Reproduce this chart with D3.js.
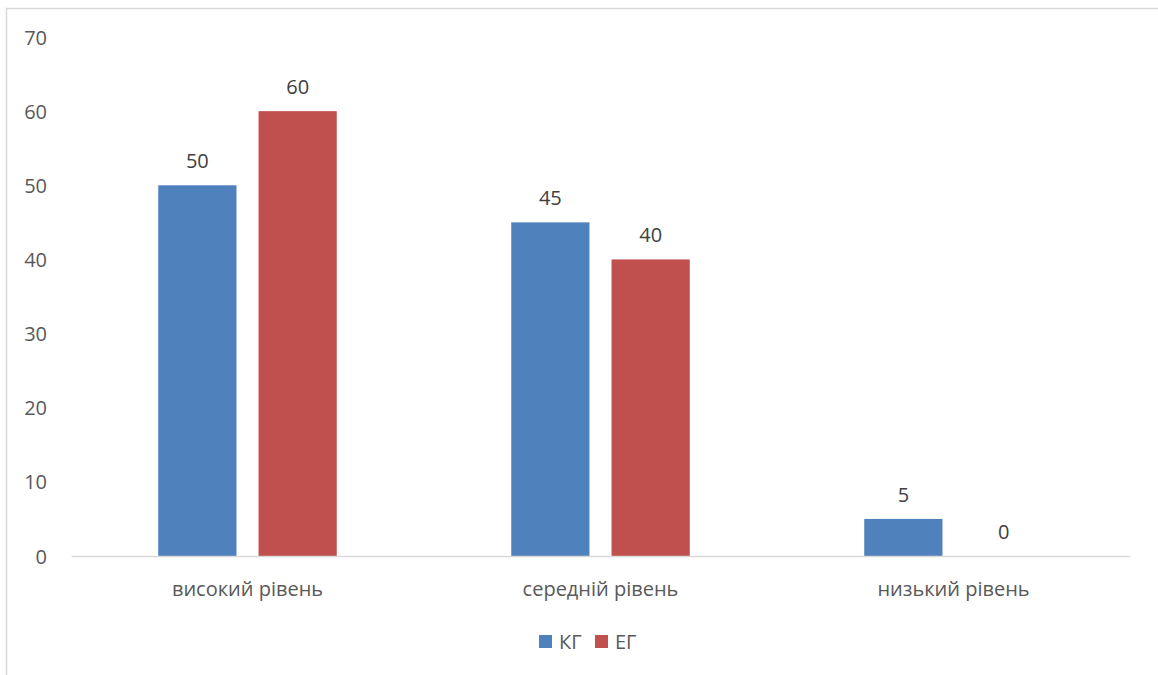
<!DOCTYPE html>
<html>
<head>
<meta charset="utf-8">
<script src="https://cdn.jsdelivr.net/npm/d3@7"></script>
<style>
  html, body { margin: 0; padding: 0; background: #fff; }
  svg { display: block; font-family: "Open Sans", "Noto Sans", sans-serif; }
</style>
</head>
<body>
<svg id="chart" width="1158" height="675"></svg>
<script>
const categories = ["високий рівень", "середній рівень", "низький рівень"];
const seriesNames = ["КГ", "ЕГ"];
const kgValues = [50, 45, 5];
const egValues = [60, 40, 0];
const yTicks = [0, 10, 20, 30, 40, 50, 60, 70];
const colors = ["#4f81bd", "#c0504d"];

const svg = d3.select("#chart");
const W = 1158, H = 675;
const FONT = 20;

// outer chart frame
svg.append("rect")
  .attr("x", 6.5).attr("y", 8.5)
  .attr("width", W + 10).attr("height", H + 10)
  .attr("fill", "#fff").attr("stroke", "#d9d9d9").attr("stroke-width", 1.5);

const plot = { left: 71, right: 1130, top: 37, bottom: 556 };

const x0 = d3.scaleBand().domain(categories).range([plot.left, plot.right]).paddingInner(0).paddingOuter(0);
const x1 = d3.scaleBand().domain(seriesNames).range([0, x0.bandwidth()]).paddingInner(0.22).paddingOuter(0.87);
const y = d3.scaleLinear().domain([0, 70]).range([plot.bottom, plot.top]);

// y tick labels (no axis line)
const yAxis = d3.axisLeft(y).tickValues(yTicks).tickSize(0).tickPadding(0);
const yg = svg.append("g").attr("transform", `translate(47,0)`).call(yAxis);
yg.select(".domain").remove();
yg.selectAll("text")
  .attr("fill", "#595959").style("font-size", FONT + "px")
  .style("font-family", "'Open Sans', 'Noto Sans', sans-serif")
  .attr("dy", "0.35em");

const data = categories.map((c, i) => ({ cat: c, vals: [kgValues[i], egValues[i]] }));

const groups = svg.append("g").selectAll("g").data(data).join("g")
  .attr("transform", d => `translate(${x0(d.cat)},0)`);

groups.selectAll("rect").data(d => d.vals.map((v, j) => ({ s: seriesNames[j], v, j })))
  .join("rect")
  .attr("x", d => x1(d.s))
  .attr("y", d => y(d.v))
  .attr("width", x1.bandwidth())
  .attr("height", d => y(0) - y(d.v))
  .attr("fill", d => colors[d.j]);

groups.selectAll("text.val").data(d => d.vals.map((v, j) => ({ s: seriesNames[j], v, j })))
  .join("text").attr("class", "val")
  .attr("x", d => x1(d.s) + x1.bandwidth() / 2)
  .attr("y", d => y(d.v) - 17)
  .attr("text-anchor", "middle")
  .attr("fill", "#404040").style("font-size", FONT + "px")
  .text(d => d.v);

// baseline / category axis
const xAxis = d3.axisBottom(x0).tickSize(0).tickPadding(0);
const xg = svg.append("g").attr("transform", `translate(0,${plot.bottom})`).call(xAxis);
xg.select(".domain").attr("stroke", "#d9d9d9").attr("stroke-width", 1.5);
xg.selectAll("text")
  .attr("fill", "#595959").style("font-size", FONT + "px")
  .style("font-family", "'Open Sans', 'Noto Sans', sans-serif")
  .attr("dy", "0").attr("y", 40);

// legend
const legend = svg.append("g");
const legendItems = [
  { name: seriesNames[0], color: colors[0], x: 539 },
  { name: seriesNames[1], color: colors[1], x: 595 }
];
legendItems.forEach(it => {
  legend.append("rect").attr("x", it.x).attr("y", 635).attr("width", 13).attr("height", 13).attr("fill", it.color);
  legend.append("text").attr("x", it.x + 20).attr("y", 649)
    .attr("fill", "#595959").style("font-size", FONT + "px").text(it.name);
});
</script>
</body>
</html>
